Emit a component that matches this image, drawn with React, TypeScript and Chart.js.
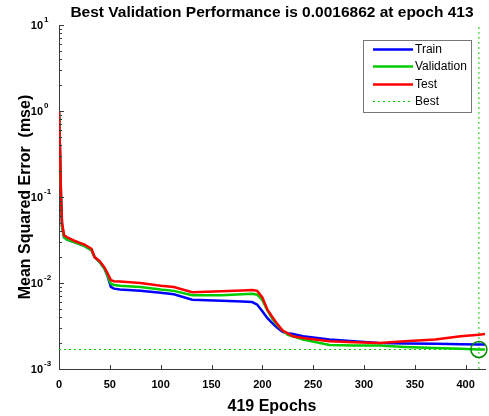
import React, { useEffect, useRef } from 'react';
import { Chart, registerables } from 'chart.js';

Chart.register(...registerables);

const TITLE = 'Best Validation Performance is 0.0016862 at epoch 413';
const X_LABEL = '419 Epochs';
const Y_LABEL = 'Mean Squared Error  (mse)';

const EPOCHS = [0, 1, 2, 3, 5, 8, 15, 25, 32, 35, 40, 45, 48, 51, 54, 60, 80, 100, 113, 131, 160, 180, 190, 195, 200, 205, 210, 215, 220, 225, 230, 240, 266, 290, 315, 340, 370, 395, 413, 419];
const TRAIN = [1.0, 0.33, 0.095, 0.046, 0.034, 0.032, 0.030, 0.027, 0.024, 0.020, 0.0175, 0.0145, 0.0118, 0.0090, 0.0086, 0.0084, 0.0081, 0.0077, 0.0074, 0.0064, 0.0062, 0.0061, 0.0060, 0.0056, 0.0047, 0.0039, 0.0034, 0.0030, 0.0027, 0.0026, 0.00255, 0.0024, 0.0022, 0.0021, 0.0020, 0.00198, 0.00196, 0.00194, 0.00193, 0.00193];
const VALIDATION = [1.0, 0.33, 0.095, 0.045, 0.034, 0.032, 0.030, 0.027, 0.024, 0.020, 0.0175, 0.0145, 0.0120, 0.0098, 0.0095, 0.0093, 0.0090, 0.0084, 0.0081, 0.0072, 0.0072, 0.0074, 0.0075, 0.0073, 0.0063, 0.0048, 0.0038, 0.0032, 0.0028, 0.0025, 0.0024, 0.0022, 0.0019, 0.00188, 0.00187, 0.00180, 0.00175, 0.00172, 0.0016862, 0.00169];
const TEST = [1.0, 0.35, 0.1, 0.05, 0.036, 0.034, 0.031, 0.028, 0.025, 0.020, 0.018, 0.015, 0.0128, 0.0108, 0.0105, 0.0104, 0.0100, 0.0093, 0.0090, 0.0078, 0.0080, 0.0082, 0.0083, 0.0081, 0.0068, 0.0049, 0.0040, 0.0033, 0.0028, 0.0026, 0.0024, 0.0023, 0.0021, 0.00205, 0.0020, 0.0021, 0.0022, 0.0024, 0.0025, 0.00255];

const BEST_EPOCH = 413;
const BEST_VALUE = 0.0016862;

const X_MIN = 0;
const X_MAX = 419;
const X_TICKS = [0, 50, 100, 150, 200, 250, 300, 350, 400];
const Y_MIN = 1e-3;
const Y_MAX = 10;
const Y_DECADES = [-3, -2, -1, 0, 1];
const Y_EXPONENTS = ['-3', '-2', '-1', '0', '1'];

const FONT = 'Liberation Sans, Arial, Helvetica, sans-serif';
const BLUE = 'rgb(0,0,255)';
const GREEN = 'rgb(0,204,0)';
const RED = 'rgb(255,0,0)';
const AXIS = '#3a3a3a';

const pts = (ys: number[]) => EPOCHS.map((e, i) => ({ x: e, y: ys[i] }));

const inwardTicks = {
  id: 'inwardTicks',
  afterDraw(chart: any) {
    const { ctx, chartArea: a, scales } = chart;
    const x = scales.x;
    const y = scales.y;
    ctx.save();
    ctx.strokeStyle = AXIS;
    ctx.lineWidth = 1;
    ctx.beginPath();
    for (const t of x.ticks) {
      const px = Math.round(x.getPixelForValue(t.value)) + 0.5;
      ctx.moveTo(px, a.bottom);
      ctx.lineTo(px, a.bottom - 4);
    }
    for (const t of y.ticks) {
      const py = Math.round(y.getPixelForValue(t.value)) + 0.5;
      ctx.moveTo(a.left, py);
      ctx.lineTo(a.left + (t.major ? 5 : 3), py);
    }
    ctx.stroke();
    ctx.fillStyle = '#000';
    ctx.textBaseline = 'middle';
    Y_DECADES.forEach((d, i) => {
      const py = y.getPixelForValue(Math.pow(10, d));
      ctx.textAlign = 'right';
      ctx.font = `bold 11px ${FONT}`;
      ctx.fillText('10', a.left - 16, py + 1);
      ctx.textAlign = 'left';
      ctx.font = `bold 8px ${FONT}`;
      ctx.fillText(Y_EXPONENTS[i], a.left - 15, py - 5);
    });
    ctx.restore();
  },
};

const boxLegend = {
  id: 'boxLegend',
  afterDraw(chart: any) {
    const { ctx, chartArea: a } = chart;
    const items = chart.data.datasets.filter((d: any) => d.legendRank).sort((p: any, q: any) => p.legendRank - q.legendRank);
    const w = 108;
    const h = 72;
    const left = Math.round(a.right - 14 - w);
    const top = Math.round(a.top + 15);
    ctx.save();
    ctx.fillStyle = '#fff';
    ctx.fillRect(left, top, w, h);
    ctx.strokeStyle = '#777';
    ctx.lineWidth = 1;
    ctx.strokeRect(left + 0.5, top + 0.5, w, h);
    ctx.font = `12px ${FONT}`;
    ctx.textBaseline = 'middle';
    items.forEach((d: any, i: number) => {
      const yy = Math.round(top + 9 + i * 17.3) + 0.5;
      ctx.strokeStyle = d.borderColor;
      const dashed = d.borderDash && d.borderDash.length;
      ctx.lineWidth = dashed ? 1 : 2.5;
      ctx.setLineDash(d.borderDash || []);
      ctx.beginPath();
      ctx.moveTo(left + 10, yy);
      ctx.lineTo(left + 50, yy);
      ctx.stroke();
      ctx.setLineDash([]);
      ctx.fillStyle = '#000';
      ctx.fillText(d.label, left + 52, yy);
    });
    ctx.restore();
  },
};

export default function App() {
  const ref = useRef<HTMLCanvasElement>(null);
  useEffect(() => {
    if (!ref.current) return;
    const chart = new Chart(ref.current, {
      type: 'line',
      data: {
        datasets: [
          { label: 'Train', legendRank: 1, data: pts(TRAIN), borderColor: BLUE, borderWidth: 2.5, pointRadius: 0, order: 3 } as any,
          { label: 'Validation', legendRank: 2, data: pts(VALIDATION), borderColor: GREEN, borderWidth: 2.5, pointRadius: 0, order: 2 } as any,
          { label: 'Test', legendRank: 3, data: pts(TEST), borderColor: RED, borderWidth: 2.5, pointRadius: 0, order: 1 } as any,
          { label: 'Best', legendRank: 4, data: [{ x: X_MIN, y: BEST_VALUE }, { x: X_MAX, y: BEST_VALUE }], borderColor: GREEN, borderWidth: 1, borderDash: [2, 3], pointRadius: 0, order: 5 } as any,
          { label: '', data: [{ x: BEST_EPOCH, y: Y_MIN }, { x: BEST_EPOCH, y: Y_MAX }], borderColor: GREEN, borderWidth: 1, borderDash: [2, 3], pointRadius: 0, order: 5 } as any,
          { label: '', data: [{ x: BEST_EPOCH, y: BEST_VALUE }], showLine: false, pointRadius: 8, pointBorderWidth: 1.5, pointBorderColor: 'rgb(0,140,0)', pointBackgroundColor: 'rgba(0,0,0,0)', clip: false, order: 0 } as any,
        ],
      },
      options: {
        animation: false,
        responsive: false,
        devicePixelRatio: 1,
        layout: { autoPadding: false, padding: { right: 4, top: 0, left: 0, bottom: 0 } },
        plugins: {
          legend: { display: false },
          tooltip: { enabled: false },
          title: {
            display: true,
            text: TITLE,
            fullSize: false,
            color: '#000',
            font: { family: FONT, size: 15.5, weight: 'bold' },
            padding: { top: 3, bottom: 3.4 },
          },
        },
        scales: {
          x: {
            type: 'linear',
            position: 'bottom',
            min: X_MIN,
            max: X_MAX,
            grid: { display: false, drawTicks: false },
            border: { display: true, color: AXIS, width: 1 },
            afterBuildTicks: (s: any) => { s.ticks = X_TICKS.map((v) => ({ value: v })); },
            afterFit: (s: any) => { s.height = 47; s.paddingLeft = 0; s.paddingRight = 0; },
            ticks: { color: '#000', padding: 9, maxRotation: 0, autoSkip: false, font: { family: FONT, size: 11, weight: 'bold' } },
            title: { display: true, text: X_LABEL, color: '#000', font: { family: FONT, size: 16, weight: 'bold' }, padding: { top: 0, bottom: 0 } },
          },
          y: {
            type: 'logarithmic',
            position: 'left',
            min: Y_MIN,
            max: Y_MAX,
            grid: { display: false, drawTicks: false },
            border: { display: true, color: AXIS, width: 1 },
            afterBuildTicks: (s: any) => {
              const t: any[] = [];
              Y_DECADES.forEach((d, i) => {
                t.push({ value: Math.pow(10, d), major: true });
                if (i < Y_DECADES.length - 1) {
                  for (let m = 2; m <= 9; m++) t.push({ value: m * Math.pow(10, d), major: false });
                }
              });
              s.ticks = t;
            },
            afterFit: (s: any) => { s.width = 59; s.paddingTop = 0; s.paddingBottom = 0; },
            ticks: { autoSkip: false, padding: 8, font: { family: FONT, size: 10 }, callback: () => '' },
            title: { display: true, text: Y_LABEL, color: '#000', font: { family: FONT, size: 16, weight: 'bold' }, padding: { top: 16, bottom: 0 } },
          },
        },
      },
      plugins: [inwardTicks, boxLegend],
    });
    return () => chart.destroy();
  }, []);
  return (
    <div style={{ position: 'fixed', left: 0, top: 0, width: 489, height: 416, background: '#fff' }}>
      <canvas ref={ref} width={489} height={416} style={{ display: 'block' }} />
    </div>
  );
}
